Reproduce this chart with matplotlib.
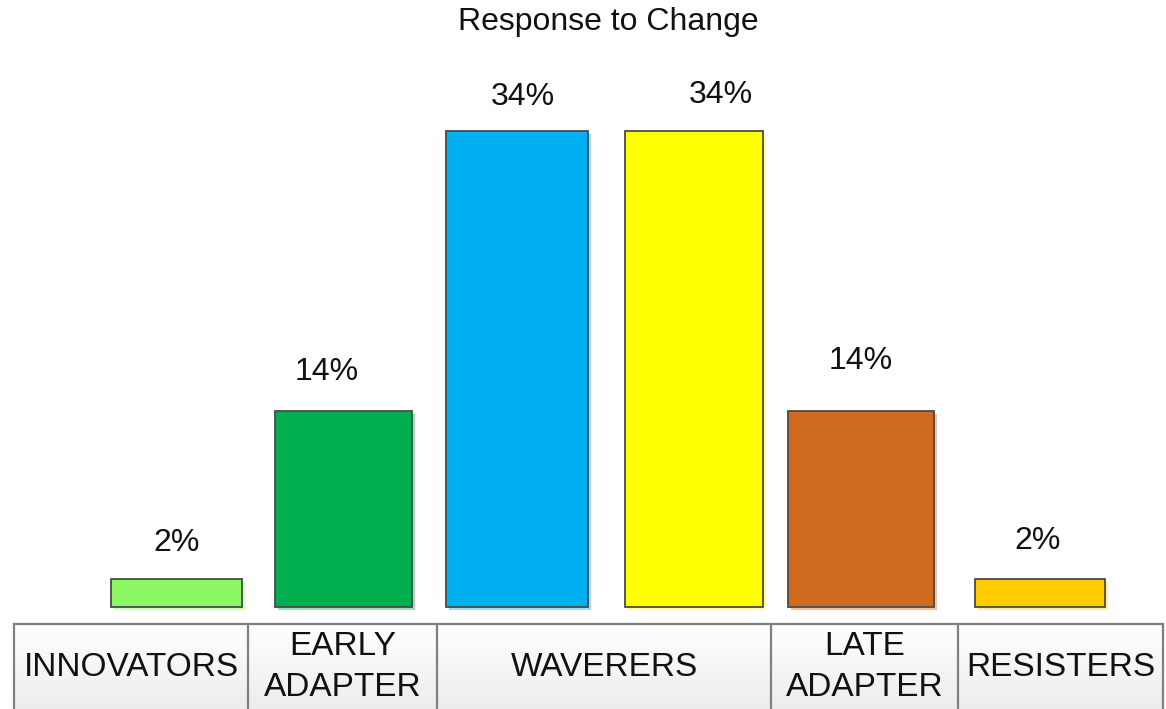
import numpy as np
import matplotlib
matplotlib.use("Agg")
import matplotlib.pyplot as plt
from matplotlib.patches import Rectangle
from matplotlib.colors import to_rgb

plt.rcParams['font.family'] = ['Liberation Sans', 'DejaVu Sans']

# ---- data ----
title = "Response to Change"
categories = ["INNOVATORS", "EARLY\nADAPTER", "WAVERERS", "LATE\nADAPTER", "RESISTERS"]
bar_values = [2, 14, 34, 34, 14, 2]          # percent
bar_labels = ["2%", "14%", "34%", "34%", "14%", "2%"]
bar_colors = ["#8BF862", "#00B050", "#00B0F0", "#FFFF00", "#D06A1E", "#FFCC00"]

# ---- layout (pixel units, figure 1166 x 709) ----
W, H = 1166, 709
bar_left = [111, 275, 446, 625, 788, 975]
bar_width = [131, 137, 142, 138, 146, 130]
baseline_px = H - 607          # distance of bar base from bottom edge
px_per_pct = 14.0
label_dx = [0, -17, 6, 27, 0, -2]
label_dy = [36, 39, 34, 36, 50, 38]
cell_edges = [14, 248, 437, 771, 958, 1163]
table_top_px = H - 624

fig = plt.figure(figsize=(W / 100, H / 100), dpi=100)

# bar axes: x in pixels, y in percent
ax = fig.add_axes([0, 0, 1, 1])
ax.set_xlim(0, W)
ax.set_ylim(-baseline_px / px_per_pct, (H - baseline_px) / px_per_pct)
ax.axis("off")

shadow_dy = 3 / px_per_pct
for left, w, v, c in zip(bar_left, bar_width, bar_values, bar_colors):
    rgb = np.array(to_rgb(c))
    shade = 1 - 0.4 * (1 - rgb)
    ax.add_patch(Rectangle((left + 3, -shadow_dy), w, v, facecolor=shade,
                           edgecolor="none", zorder=1))
bars = ax.bar(bar_left, bar_values, width=bar_width, align="edge",
              color=bar_colors, edgecolor="#4a4a4a", linewidth=1.3, zorder=2)

for rect, lab, dx, dy in zip(bars, bar_labels, label_dx, label_dy):
    cx = rect.get_x() + rect.get_width() / 2
    ax.annotate(lab, xy=(cx, rect.get_height()), xytext=(dx, dy),
                textcoords="offset pixels", ha="center", va="center",
                fontsize=23, color="#111111")

# category table at the bottom, in pixel coordinates
tab = fig.add_axes([0, 0, 1, 1])
tab.set_xlim(0, W)
tab.set_ylim(0, H)
tab.axis("off")
tab.patch.set_alpha(0)

grad = np.linspace(1.0, 0.925, 64).reshape(-1, 1)
tab.imshow(np.dstack([grad, grad, grad]), extent=(cell_edges[0], cell_edges[-1], -2, table_top_px),
           aspect="auto", origin="upper", zorder=1)
edge_kw = dict(color="#808080", linewidth=1.6, zorder=3)
tab.plot([cell_edges[0], cell_edges[-1]], [table_top_px, table_top_px], **edge_kw)
for x in cell_edges:
    tab.plot([x, x], [-2, table_top_px], **edge_kw)

for i, name in enumerate(categories):
    cx = (cell_edges[i] + cell_edges[i + 1]) / 2
    tab.text(cx, H - 667, name, ha="center", va="center", fontsize=24,
             color="#111111", linespacing=1.45, zorder=4)

fig.text(608 / W, 1 - 22 / H, title, ha="center", va="center",
         fontsize=23, color="#111111")

fig.savefig("out.png", dpi=100, facecolor="white")
